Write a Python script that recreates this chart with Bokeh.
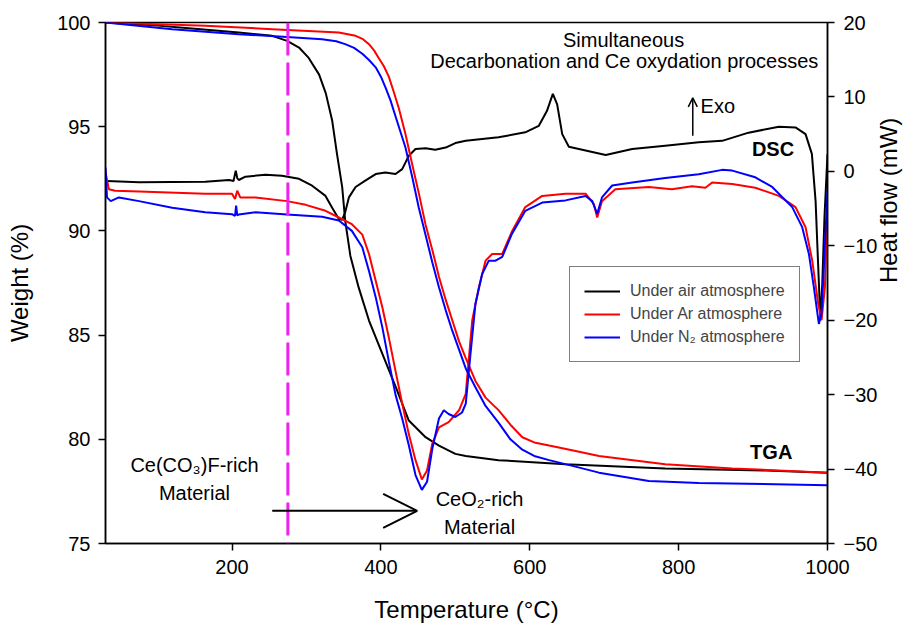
import math
from bokeh.plotting import figure
from bokeh.models import (Range1d, LinearAxis, Label, Arrow, OpenHead, Span,
                          Legend, LegendItem, FixedTicker)
from bokeh.embed import file_html
from bokeh.resources import INLINE

# ---------------- data ----------------
x_ticks = [200, 400, 600, 800, 1000]
w_ticks = [75, 80, 85, 90, 95, 100]
h_ticks = [-50, -40, -30, -20, -10, 0, 10, 20]

air_tga_T = [30, 100, 150, 209, 254, 274, 290, 303, 317, 326, 334.5, 341, 348, 352, 359, 370, 384,
             402, 420, 437.5, 460, 478, 500, 514, 558, 648, 782, 917, 1000]
air_tga_W = [100, 99.85, 99.7, 99.52, 99.36, 99.12, 98.8, 98.3, 97.5, 96.6, 95.3, 93.7, 92.1, 90.5,
             88.8, 87.3, 85.7, 84.1, 82.5, 80.9, 80.1, 79.7, 79.3, 79.2, 79.0, 78.8, 78.6, 78.5, 78.4]

ar_tga_T = [30, 164, 254, 343.5, 366, 376, 384, 391, 397, 404, 410.6, 417, 424, 433, 442, 451, 460,
            469, 478, 487, 496, 505, 514, 527, 540.6, 558, 574, 590, 606, 626, 660, 693, 782, 872, 1000]
ar_tga_W = [100, 99.84, 99.68, 99.52, 99.36, 99.2, 98.96, 98.65, 98.3, 97.9, 97.4, 96.7, 95.9, 94.65,
            93.2, 91.8, 90.3, 89.1, 87.8, 86.7, 85.7, 84.7, 83.9, 82.8, 82.0, 81.4, 80.7, 80.1,
            79.85, 79.7, 79.45, 79.2, 78.8, 78.6, 78.4]

n2_tga_T = [30, 119.6, 209, 274, 321, 340, 352, 364, 375, 384, 393, 400, 406, 413, 419.6, 433, 442,
            451, 460, 469, 478, 487, 496, 505, 514, 527, 540.6, 558, 574, 590, 606, 626, 660, 693,
            760, 827, 1000]
n2_tga_W = [100, 99.68, 99.44, 99.3, 99.2, 99.1, 98.96, 98.78, 98.5, 98.2, 97.85, 97.4, 96.9, 96.25,
            95.5, 94.0, 92.6, 91.1, 89.8, 88.5, 87.3, 86.2, 85.2, 84.3, 83.4, 82.5, 81.6, 80.8,
            80.0, 79.5, 79.2, 79.0, 78.7, 78.4, 78.0, 77.9, 77.8]

air_dsc_T = [30, 32, 75, 164, 196, 202, 205, 207, 209, 218, 245, 267, 290, 307.6, 325.6, 334.5,
             343.5, 348, 352, 357, 366, 379, 393, 406, 419.6, 428.6, 437.5, 446.5, 460, 473, 487,
             500, 514, 558, 594, 612, 623, 631, 636.8, 643.6, 652.5, 675, 702, 737.6, 782, 827,
             858.5, 894, 934.7, 957, 970.5, 979, 984, 988, 990.5, 993, 996, 1000]
air_dsc_H = [-1.2, -1.3, -1.48, -1.39, -1.16, -1.3, 0.1, -0.9, -1.16, -0.72, -0.45, -0.6, -1.0,
             -1.93, -3.3, -4.9, -6.4, -6.5, -5.5, -3.5, -2.1, -1.25, -0.36, -0.14, -0.36, 0.3, 2.1,
             3.0, 3.1, 2.9, 3.2, 3.8, 4.1, 4.57, 5.24, 6.1, 8.1, 10.4, 9.0, 5.0, 3.3, 2.8, 2.2,
             3.0, 3.45, 3.9, 4.1, 5.2, 6.0, 5.9, 5.0, 2.35, -4.0, -14.0, -20.0, -15.0, -6.0, 2.3]

ar_dsc_T = [30, 34.5, 43, 75, 164, 200, 204, 207, 211, 231.5, 274, 299, 325.6, 343.5, 361, 375, 384,
            393, 402, 410.6, 419.6, 428.6, 437.5, 446.5, 455, 462, 469, 478, 491, 505, 514, 522.7,
            531.6, 540.6, 549.5, 563, 576.4, 594, 616.7, 648, 675, 686, 690.6, 697, 715, 760, 791,
            818, 836, 845, 872, 903, 934.7, 957, 970.5, 979.5, 987.5, 992, 996.5, 1000]
ar_dsc_H = [-0.1, -2.4, -2.6, -2.7, -3.0, -3.0, -3.7, -2.6, -3.5, -3.5, -4.0, -4.5, -5.3, -6.2,
            -7.1, -8.5, -11.1, -14.7, -18.3, -22.3, -26.8, -31.2, -35.3, -38.8, -41.4, -40.2,
            -36.6, -34.4, -33.7, -32.1, -29.9, -20.0, -15.6, -12.0, -11.1, -11.1, -8.0, -4.8,
            -3.3, -3.0, -3.0, -4.4, -6.2, -4.0, -2.4, -2.1, -2.4, -2.0, -2.2, -1.5, -1.7, -2.2,
            -3.3, -4.8, -7.5, -12.0, -17.8, -20.0, -15.6, -5.8]

n2_dsc_T = [30, 32, 37, 48, 75, 119.6, 164, 200, 204, 205.5, 207, 209, 231.5, 274, 321, 343.5, 361,
            375, 384, 393, 402, 410.6, 419.6, 428.6, 437.5, 446.5, 455, 462, 469, 478, 484.5, 491,
            500, 509, 514, 520.4, 527, 536, 545, 554, 563, 576, 594, 616.7, 648, 675, 684, 690.6,
            697, 710.7, 737.6, 782, 827, 858.5, 872, 903, 925.7, 952.6, 966, 975, 981.7, 988.4,
            992, 995, 1000]
n2_dsc_H = [0.5, -3.5, -4.0, -3.5, -4.0, -4.9, -5.5, -5.75, -6.0, -4.6, -5.9, -5.8, -5.5, -5.8,
            -6.1, -6.6, -8.0, -10.2, -13.4, -16.9, -21.0, -25.5, -30.0, -33.2, -36.8, -40.8,
            -42.8, -41.7, -37.3, -33.2, -32.1, -32.6, -33.0, -32.4, -31.2, -24.5, -17.8, -13.8,
            -12.0, -12.0, -11.5, -8.4, -5.3, -4.2, -3.9, -3.3, -4.0, -5.7, -3.5, -1.9, -1.5,
            -0.9, -0.4, 0.2, 0.1, -0.8, -2.1, -4.8, -7.5, -11.1, -15.6, -20.5, -19.1, -13.2, -2.5]

divider_T = 275

FONT = "Liberation Sans"

# ---------------- figure ----------------
p = figure(width=919, height=627, output_backend="svg", toolbar_location=None,
           x_range=Range1d(30, 1000), y_range=Range1d(75, 100),
           min_border_left=105, min_border_right=92, min_border_top=22, min_border_bottom=84,
           background_fill_color="white", border_fill_color="white")
p.extra_y_ranges = {"hf": Range1d(-50, 20)}
p.xgrid.visible = False
p.ygrid.visible = False
p.outline_line_color = "black"
p.outline_line_width = 1.5
p.outline_line_alpha = 1.0

ax_r = LinearAxis(y_range_name="hf", axis_label="Heat flow (mW)")
ax_r.axis_label_orientation = math.pi / 2
p.add_layout(ax_r, "right")

p.xaxis.ticker = FixedTicker(ticks=x_ticks)
p.yaxis[0].ticker = FixedTicker(ticks=w_ticks)
ax_r.ticker = FixedTicker(ticks=h_ticks)
p.xaxis.axis_label = "Temperature (°C)"
p.yaxis[0].axis_label = "Weight (%)"

for ax in [p.xaxis[0], p.yaxis[0], ax_r]:
    ax.axis_line_color = "black"
    ax.axis_line_width = 1.5
    ax.major_tick_line_color = "black"
    ax.major_tick_line_width = 1.5
    ax.major_tick_out = 7
    ax.major_tick_in = 0
    ax.minor_tick_line_color = None
    ax.major_label_text_font = FONT
    ax.major_label_text_font_size = "20px"
    ax.major_label_text_color = "black"
    ax.axis_label_text_font = FONT
    ax.axis_label_text_font_size = "24px"
    ax.axis_label_text_font_style = "normal"
    ax.axis_label_text_color = "black"

p.xaxis[0].major_label_standoff = 9
p.xaxis[0].axis_label_standoff = 19
p.yaxis[0].major_label_standoff = 8
p.yaxis[0].axis_label_standoff = 21
ax_r.major_label_standoff = 9
ax_r.axis_label_standoff = 8

# ---------------- lines ----------------
r_air = p.line(air_tga_T, air_tga_W, line_color="black", line_width=2)
p.line(air_dsc_T, air_dsc_H, line_color="black", line_width=2, y_range_name="hf")
r_ar = p.line(ar_tga_T, ar_tga_W, line_color="#ff0000", line_width=2)
p.line(ar_dsc_T, ar_dsc_H, line_color="#ff0000", line_width=2, y_range_name="hf")
r_n2 = p.line(n2_tga_T, n2_tga_W, line_color="#0000ff", line_width=2)
p.line(n2_dsc_T, n2_dsc_H, line_color="#0000ff", line_width=2, y_range_name="hf")

p.add_layout(Span(location=divider_T, dimension="height", line_color="#ee22ee",
                  line_width=3, line_dash="33 7"))

# ---------------- annotations ----------------
def lab(x, y, text, size="20px", align="center", style="normal"):
    p.add_layout(Label(x=x, y=y, text=text, text_font=FONT, text_font_size=size,
                       text_align=align, text_baseline="middle", text_font_style=style,
                       text_color="black"))

lab(726, 99.17, "Simultaneous")
lab(727, 98.13, "Decarbonation and Ce oxydation processes")
lab(829.5, 96.0, "Exo", align="left")
lab(926.8, 93.93, "DSC", style="bold")
lab(924.4, 79.37, "TGA", style="bold")
lab(149.5, 78.76, "Ce(CO₃)F-rich")
lab(149.5, 77.4, "Material")
lab(532.5, 77.13, "CeO₂-rich")
lab(532.5, 75.79, "Material")

p.add_layout(Arrow(end=OpenHead(size=9, line_width=1.5, line_color="black"),
                   x_start=819, y_start=94.57, x_end=819, y_end=96.38,
                   line_width=1.5, line_color="black"))
p.add_layout(Arrow(end=OpenHead(size=34, line_width=2, line_color="black"),
                   x_start=254, y_start=76.57, x_end=448.7, y_end=76.57,
                   line_width=2, line_color="black"))

# ---------------- legend ----------------
legend = Legend(items=[LegendItem(label="Under air atmosphere", renderers=[r_air]),
                       LegendItem(label="Under Ar atmosphere", renderers=[r_ar]),
                       LegendItem(label="Under N₂ atmosphere", renderers=[r_n2])],
                location=(464, 181), padding=14, spacing=3, label_height=20, glyph_height=20,
                glyph_width=36, label_standoff=10, margin=0,
                label_text_font=FONT, label_text_font_size="16px",
                border_line_color="black", border_line_width=1.5,
                background_fill_color="white", background_fill_alpha=1.0)
p.add_layout(legend)

open("out.html", "w").write(file_html(p, INLINE))
